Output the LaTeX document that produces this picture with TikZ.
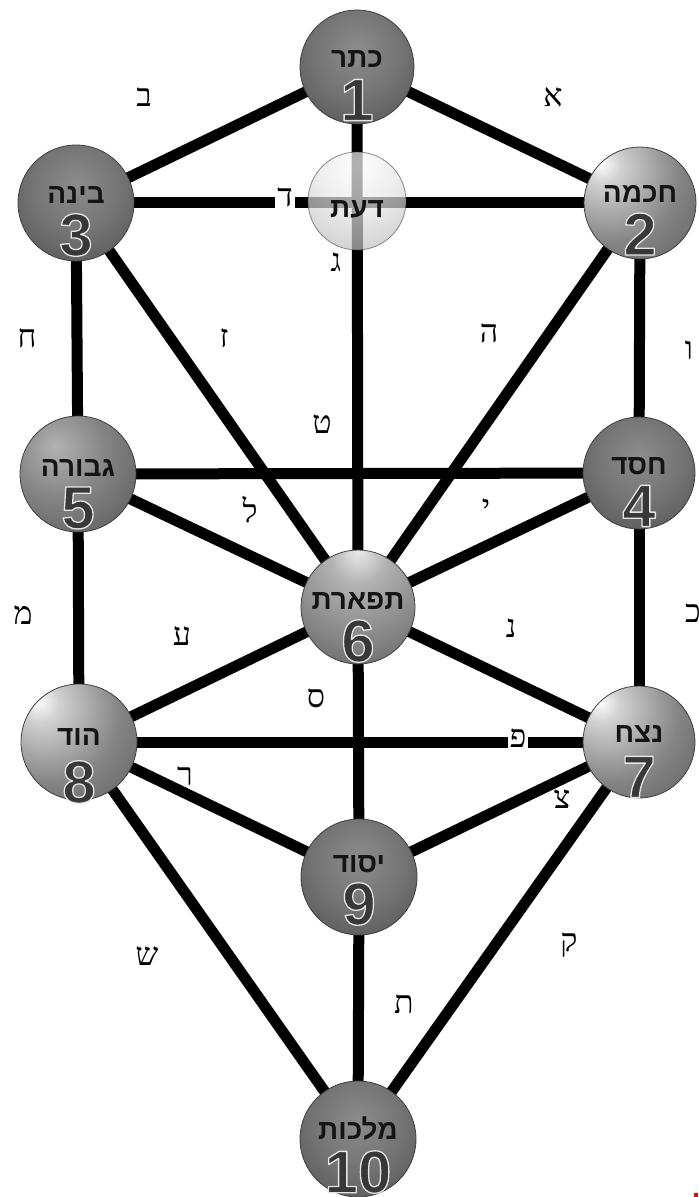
\documentclass[tikz,border=0pt]{standalone}
\usepackage{fontspec}
\usetikzlibrary{calc}
\TeXXeTstate=1
\newfontfamily\hebserif[Script=Hebrew]{Liberation Serif}
\newfontfamily\hebsans[Script=Hebrew]{Liberation Sans}
\newfontfamily\numfam{Liberation Sans}
\newcommand\namefont{\hebsans\bfseries\fontsize{14pt}{14pt}\selectfont}
\newcommand\numfontsz{\numfam\bfseries\fontsize{30pt}{30pt}\selectfont}
\newcommand{\outl}[3]{\special{pdf:literal direct 2 Tr 1 j #1 w #2 RG}#3\special{pdf:literal direct 0 Tr}}
\pgfdeclareradialshading{sphdark}{\pgfpoint{0bp}{8bp}}{color(0bp)=(black!45); color(20bp)=(black!55); color(45bp)=(black!72); color(58bp)=(black!84); color(100bp)=(black!84)}
\pgfdeclareradialshading{sphmid}{\pgfpoint{-10bp}{12bp}}{color(0bp)=(black!30); color(20bp)=(black!48); color(50bp)=(black!70); color(70bp)=(black!82); color(100bp)=(black!82)}
\pgfdeclareradialshading{sphhl}{\pgfpoint{-18bp}{18bp}}{color(0bp)=(white); color(8bp)=(black!18); color(30bp)=(black!48); color(60bp)=(black!70); color(78bp)=(black!82); color(100bp)=(black!82)}
\pgfdeclareradialshading{sphtop}{\pgfpoint{0bp}{25bp}}{color(0bp)=(black!8); color(12bp)=(black!30); color(40bp)=(black!55); color(75bp)=(black!78); color(100bp)=(black!78)}
\pgfdeclareradialshading{sphdaat}{\pgfpoint{0bp}{20bp}}{color(0bp)=(white); color(20bp)=(black!10); color(50bp)=(black!35); color(70bp)=(black!50); color(100bp)=(black!50)}
\pgfdeclarelayer{bg}
\pgfsetlayers{bg,main}
\tikzset{
  conn/.style={line width=5.5pt, black},
  sph/.style={circle, inner sep=0pt, minimum size=#1 pt, draw=black!75, line width=0.4pt},
  lbl/.style={font=\hebserif\fontsize{16pt}{16pt}\selectfont, anchor=base, inner sep=0pt},
  lblw/.style={lbl, fill=white, inner sep=1pt},
  sefname/.style={font=\namefont, text=black!92, inner sep=0pt},
  sefnum/.style={font=\numfontsz, text=black!78, inner sep=0pt},
}
\newcommand{\sname}[3]{%
  \node[sefname] (#1-nm) at ($(#1)+(0,#2)$) {\beginR#3\endR};}
\newcommand{\snum}[3]{%
  \node[sefnum] (#1-nu) at ($(#1)+(0,#2)$) {\outl{0.65}{0.9 0.9 0.9}{#3}};}
\begin{document}
\begin{tikzpicture}[x=0.5pt,y=-0.5pt]
\clip (0,0) rectangle (698,1197);
% spheres
\node[sph=57, shading=sphdark] (s1) at (357,67) {};
\node[sph=56, shading=sphhl] (s2) at (640,203) {};
\node[sph=58, shading=sphdark] (s3) at (76,203) {};
\node[sph=49, shading=sphdaat, fill opacity=0.7, draw opacity=0.6] (sd) at (357,201) {};
\node[sph=56, shading=sphdark] (s4) at (639,473) {};
\node[sph=58, shading=sphmid] (s5) at (78,474) {};
\node[sph=57, shading=sphtop] (s6) at (358,607) {};
\node[sph=56, shading=sphhl] (s7) at (639,742) {};
\node[sph=58, shading=sphhl] (s8) at (79,742) {};
\node[sph=58, shading=sphdark] (s9) at (359,877) {};
\node[sph=58, shading=sphdark] (s10) at (358,1139) {};
% connectors
\begin{pgfonlayer}{bg}
\draw[conn] (s1.center) -- (s2.center);
\draw[conn] (s1.center) -- (s3.center);
\draw[conn] (s1.center) -- (s6.center);
\draw[conn] (s3.center) -- (s2.center);
\draw[conn] (s2.center) -- (s6.center);
\draw[conn] (s2.center) -- (s4.center);
\draw[conn] (s3.center) -- (s6.center);
\draw[conn] (s3.center) -- (s5.center);
\draw[conn] (s5.center) -- (s4.center);
\draw[conn] (s4.center) -- (s6.center);
\draw[conn] (s4.center) -- (s7.center);
\draw[conn] (s5.center) -- (s6.center);
\draw[conn] (s5.center) -- (s8.center);
\draw[conn] (s6.center) -- (s7.center);
\draw[conn] (s6.center) -- (s9.center);
\draw[conn] (s6.center) -- (s8.center);
\draw[conn] (s8.center) -- (s7.center);
\draw[conn] (s7.center) -- (s9.center);
\draw[conn] (s7.center) -- (s10.center);
\draw[conn] (s8.center) -- (s9.center);
\draw[conn] (s8.center) -- (s10.center);
\draw[conn] (s9.center) -- (s10.center);
\end{pgfonlayer}
% names and numbers
\sname{s1}{-8}{כתר}   \snum{s1}{33}{1}
\sname{s2}{-9}{חכמה}  \snum{s2}{31}{2}
\sname{s3}{-8}{בינה}  \snum{s3}{32}{3}
\sname{sd}{8}{דעת}
\sname{s4}{-7}{חסד}   \snum{s4}{33}{4}
\sname{s5}{-6}{גבורה} \snum{s5}{34}{5}
\sname{s6}{-6}{תפארת}  \snum{s6}{34}{6}
\sname{s7}{-8}{נצח}   \snum{s7}{35}{7}
\sname{s8}{-5}{הוד}   \snum{s8}{40}{8}
\sname{s9}{-13}{יסוד}  \snum{s9}{27}{9}
\sname{s10}{-10}{מלכות} \snum{s10}{33}{10}
% path letters
\node[lbl] (lA) at (553,107) {א};
\node[lbl] (lB) at (144,107) {ב};
\node[lbl] (lG) at (336,272) {ג};
\node[lblw] (lD) at (285,207) {ד};
\node[lbl] (lH) at (489,343) {ה};
\node[lbl] (lV) at (689,360) {ו};
\node[lbl] (lZ) at (224,348) {ז};
\node[lbl] (lCh) at (27,348) {ח};
\node[lbl] (lT) at (322,433) {ט};
\node[lbl] (lY) at (486,517) {י};
\node[lbl] (lK) at (693,622) {כ};
\node[lbl] (lL) at (250,522) {ל};
\node[lbl] (lM) at (23,624) {מ};
\node[lbl] (lN) at (511,637) {נ};
\node[lbl] (lS) at (316,707) {ס};
\node[lbl] (lAy) at (182,645) {ע};
\node[lblw] (lP) at (518,747) {פ};
\node[lbl] (lTz) at (562,808) {צ};
\node[lbl] (lQ) at (569,951) {ק};
\node[lbl] (lR) at (185,785) {ר};
\node[lbl] (lSh) at (147,965) {ש};
\node[lbl] (lTa) at (404,1013) {ת};
\fill[red] (694,1193) rectangle (698,1197);
\end{tikzpicture}
\end{document}
